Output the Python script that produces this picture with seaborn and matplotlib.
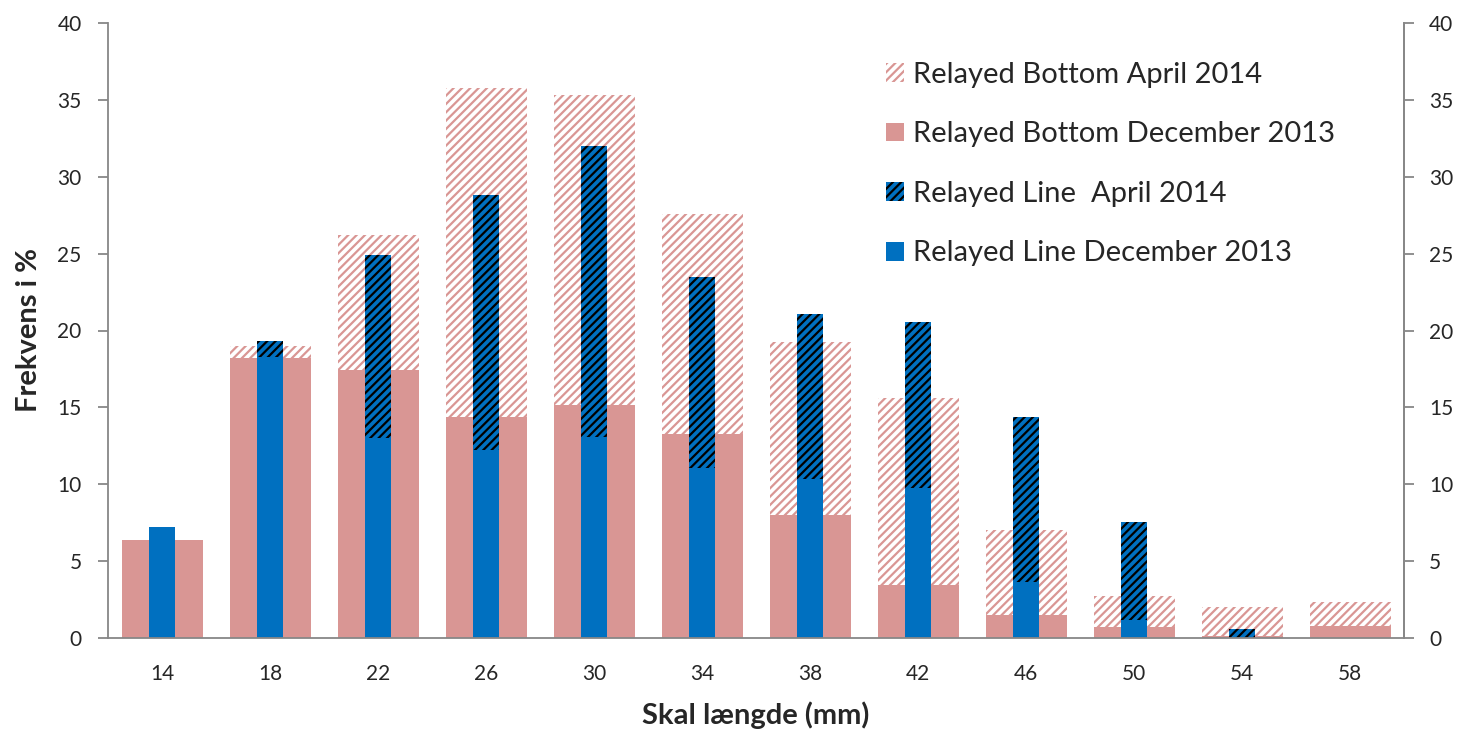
import numpy as np
import pandas as pd
import matplotlib
matplotlib.use("Agg")
import matplotlib.pyplot as plt
from matplotlib.patches import Patch
import seaborn as sns

sizes = ["14", "18", "22", "26", "30", "34", "38", "42", "46", "50", "54", "58"]
bottom_dec2013 = [6.4, 18.2, 17.4, 14.4, 15.15, 13.3, 8.0, 3.45, 1.5, 0.7, 0.1, 0.75]
bottom_apr2014 = [0.0, 0.8, 8.8, 21.4, 20.15, 14.3, 11.25, 12.15, 5.5, 2.0, 1.9, 1.6]
line_dec2013 = [7.2, 18.3, 13.0, 12.2, 13.1, 11.05, 10.35, 9.75, 3.65, 1.2, 0.0, 0.0]
line_apr2014 = [0.0, 1.0, 11.9, 16.6, 18.9, 12.45, 10.75, 10.8, 10.75, 6.35, 0.6, 0.0]

sns.set_theme(style="white")
plt.rcParams["font.family"] = ["Lato", "DejaVu Sans"]
plt.rcParams["hatch.linewidth"] = 1.6

pink = "#D99694"
blue = "#0070C0"
HATCH = "////"

df = pd.DataFrame({
    "size": sizes,
    "bdec": bottom_dec2013,
    "btot": np.array(bottom_dec2013) + np.array(bottom_apr2014),
    "ldec": line_dec2013,
    "ltot": np.array(line_dec2013) + np.array(line_apr2014),
})

fig = plt.figure(figsize=(14.6, 7.35), dpi=100)
ax = fig.add_axes([108/1460, 1-638/735, (1404-108)/1460, (638-23)/735])

# Relayed Bottom April (stacked on December) - hatched pink
sns.barplot(data=df, x="size", y="btot", order=sizes, width=0.75, ax=ax,
            color="white", edgecolor=pink, linewidth=0, hatch=HATCH, saturation=1)
sns.barplot(data=df, x="size", y="bdec", order=sizes, width=0.75, ax=ax,
            color=pink, linewidth=0, saturation=1)
sns.barplot(data=df, x="size", y="ltot", order=sizes, width=0.24, ax=ax,
            color=blue, edgecolor="black", linewidth=0, hatch=HATCH, saturation=1)
sns.barplot(data=df, x="size", y="ldec", order=sizes, width=0.24, ax=ax,
            color=blue, linewidth=0, saturation=1)

ax.set_xlim(-0.5, len(sizes) - 0.5)
ax.set_ylim(0, 40)
ax.set_yticks(range(0, 41, 5))
ax.set_xlabel("Skal længde (mm)", fontsize=21, fontweight="bold", labelpad=12)
ax.set_ylabel("Frekvens i %", fontsize=21, fontweight="bold", labelpad=11)

gray = "#878787"
for s in ["left", "bottom", "right"]:
    ax.spines[s].set_color(gray)
    ax.spines[s].set_linewidth(1.3)
ax.spines["top"].set_visible(False)

# x ticks at category boundaries, labels at centers
ax.set_xticks(np.arange(len(sizes)))
ax.set_xticklabels(sizes, fontsize=15)
ax.set_xticks(np.arange(-0.5, len(sizes)), minor=True)
ax.tick_params(axis="x", which="major", length=0, pad=19)
ax.tick_params(axis="x", which="minor", length=7, width=1.3, color=gray, direction="out")
ax.tick_params(axis="y", length=7, width=1.3, color=gray, direction="out", labelsize=15, left=True, pad=12)

ax2 = ax.twinx()
ax2.set_ylim(0, 40)
ax2.set_yticks(range(0, 41, 5))
ax2.tick_params(axis="y", length=7, width=1.3, color=gray, direction="out", labelsize=15, right=True, pad=11)
for s in ["left", "bottom", "top"]:
    ax2.spines[s].set_visible(False)
ax2.spines["right"].set_color(gray)
ax2.spines["right"].set_linewidth(1.3)
ax2.grid(False)
ax.grid(False)

handles = [
    Patch(facecolor="white", edgecolor=pink, linewidth=0, hatch=HATCH),
    Patch(facecolor=pink, linewidth=0),
    Patch(facecolor=blue, edgecolor="black", linewidth=0, hatch=HATCH),
    Patch(facecolor=blue, linewidth=0),
]
labels = ["Relayed Bottom April 2014", "Relayed Bottom December 2013",
          "Relayed Line  April 2014", "Relayed Line December 2013"]
ax.legend(handles, labels, loc="upper left", bbox_to_anchor=(0.6, 0.937), frameon=False,
          fontsize=21, handlelength=0.62, handleheight=0.62, handletextpad=0.33,
          labelspacing=1.15, borderaxespad=0, borderpad=0)

fig.savefig("out.png", dpi=100)
